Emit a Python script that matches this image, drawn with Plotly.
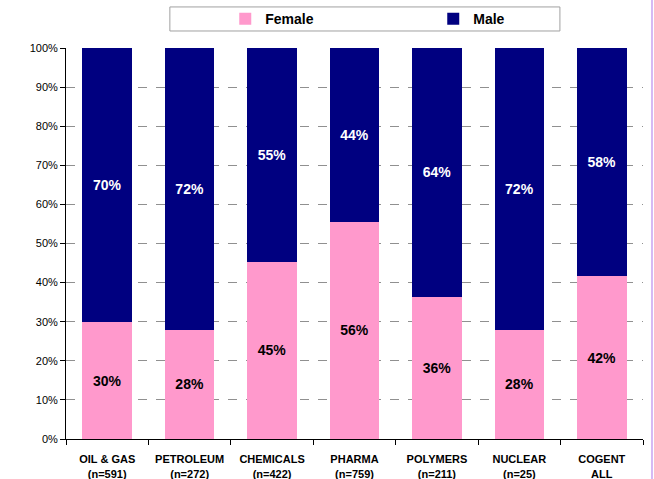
import plotly.graph_objects as go

categories = ["OIL & GAS<br>(n=591)", "PETROLEUM<br>(n=272)", "CHEMICALS<br>(n=422)",
              "PHARMA<br>(n=759)", "POLYMERS<br>(n=211)", "NUCLEAR<br>(n=25)", "COGENT<br>ALL"]
female = [29.9, 27.9, 45.3, 55.6, 36.4, 28.0, 41.6]
male = [100 - f for f in female]
ytick_vals = [0, 10, 20, 30, 40, 50, 60, 70, 80, 90, 100]
ytick_text = [f"{v}%" for v in ytick_vals]

fig = go.Figure()
fig.add_trace(go.Bar(
    x=categories, y=female, name="Female", marker=dict(color="#FF99CC", line=dict(width=0)),
    texttemplate="%{y:.0f}%", textposition="inside", insidetextanchor="middle",
    textfont=dict(family="Liberation Sans", size=14, color="#000000", weight="bold"),
))
fig.add_trace(go.Bar(
    x=categories, y=male, name="Male", marker=dict(color="#000080", line=dict(width=0)),
    texttemplate="%{y:.0f}%", textposition="inside", insidetextanchor="middle",
    textfont=dict(family="Liberation Sans", size=14, color="#FFFFFF", weight="bold"),
))

fig.update_layout(
    barmode="stack", bargap=0.4,
    width=654, height=479,
    margin=dict(l=66, r=11, t=48, b=40, autoexpand=False),
    paper_bgcolor="white", plot_bgcolor="white",
    font=dict(family="Liberation Sans", color="#000000"),
    showlegend=True,
    legend=dict(
        orientation="h", x=0.276, y=1.074, xanchor="left", yanchor="middle",
        borderwidth=0, bgcolor="rgba(0,0,0,0)",
        font=dict(family="Liberation Sans", size=14, color="#000000", weight="bold"),
        entrywidth=163, entrywidthmode="pixels",
        itemwidth=30, traceorder="normal",
    ),
    xaxis=dict(
        showline=True, linecolor="#000000", linewidth=1,
        ticks="outside", tickson="boundaries", ticklen=5, tickcolor="#000000",
        tickfont=dict(family="Liberation Sans", size=11, color="#000000", weight="bold"),
        tickangle=0, automargin=False, ticklabelstandoff=10,
        showgrid=False,
    ),
    yaxis=dict(
        range=[0, 100], tickvals=ytick_vals, ticktext=ytick_text,
        showline=True, linecolor="#000000", linewidth=1,
        ticks="outside", ticklen=5, tickcolor="#000000",
        tickfont=dict(family="Liberation Sans", size=11, color="#000000"),
        showgrid=True, gridcolor="#909090", griddash="dash", gridwidth=1,
        zeroline=False, automargin=False,
    ),
    shapes=[
        dict(type="rect", xref="paper", yref="paper", x0=0.180, x1=0.856,
             y0=1.0435, y1=1.105, line=dict(color="#A0A0A0", width=1), fillcolor="rgba(0,0,0,0)"),
        dict(type="line", xref="paper", yref="paper", x0=1.0156, x1=1.0156,
             y0=-0.11, y1=1.13, line=dict(color="#C8A2F0", width=1.5)),
    ],
)

fig.write_html("out.html", config={"displayModeBar": False},
               post_script="document.body.style.margin='0px';")
